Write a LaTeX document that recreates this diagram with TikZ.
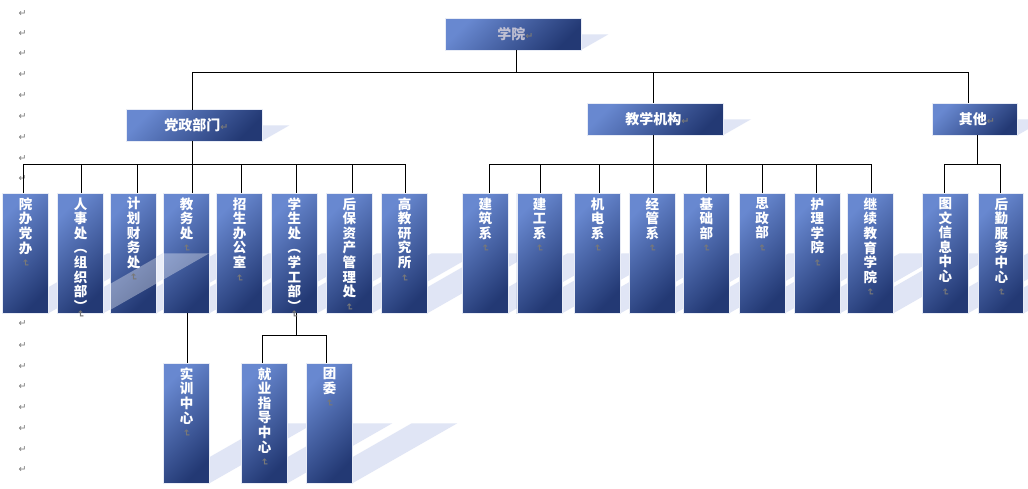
\documentclass[tikz,border=0pt]{standalone}
\usepackage{fontspec}
\usepackage{graphicx}
\newfontfamily\cjk{Noto Sans CJK SC}
\newfontfamily\symf{DejaVu Sans}
\definecolor{boxA}{RGB}{104,136,208}
\definecolor{boxB}{RGB}{35,57,116}
\definecolor{boxline}{RGB}{232,236,246}
\definecolor{shadowc}{RGB}{224,229,245}
\definecolor{mkgray}{RGB}{120,120,120}
\definecolor{roottext}{RGB}{192,192,210}
\newcommand\hmk{{\symf\fontsize{9.5}{9.5}\selectfont\color{mkgray}↵}}
\newcommand\vmk{\rotatebox{-90}{\symf\fontsize{9.5}{9.5}\selectfont\color{mkgray}↵}}
\newcommand\myshadow[4]{\fill[shadowc] (#1,#4) -- (#3,#4) -- ({#3+0.875*(#4-#2)},{(#2+#4)/2}) -- ({#1+0.875*(#4-#2)},{(#2+#4)/2}) -- cycle;}
\newcommand\mybox[5]{\node[boxst, anchor=north west, minimum width={(#4-#2)*1pt}, minimum height={(#5-#3)*1pt}] (#1) at (#2,#3) {};}
\tikzset{
  boxst/.style={draw=boxline, line width=0.8pt, inner sep=0pt, outer sep=0pt,
    top color=boxA, bottom color=boxB, shading angle=45},
  conn/.style={draw=black, line width=1pt},
  vtxt/.style={text=white, font=\cjk\bfseries\fontsize{13.5}{14.6}\selectfont, align=center, inner sep=0pt, anchor=north},
  htxt/.style={text=white, font=\cjk\bfseries\fontsize{14}{16}\selectfont, inner sep=0pt},
  lmk/.style={text=mkgray, font=\symf\fontsize{9.5}{9.5}\selectfont, inner sep=0pt}
}
\begin{document}
\begin{tikzpicture}[x=1pt,y=-1pt]
\useasboundingbox (0,0) rectangle (1028,488);
\fill[white] (0,0) rectangle (1028,488);
% paragraph marks at the left
\foreach \yy [count=\i] in {13.3,33.3,54,75,96,116.7,137.3,158.3,179,324,345.3,366.7,386.7,407.3,428.3,450,470}
  \node[lmk] (lm\i) at (22.5,\yy) {↵};
% shadows
\myshadow{445.7}{18.7}{581}{50}
\myshadow{126.7}{109.7}{262}{141}
\myshadow{587.7}{103.3}{723}{135.3}
\myshadow{932.5}{103.3}{1017.3}{135.3}
\foreach \xa/\xb in {2.7/48.3,57.7/103.3,110.7/156.3,163.7/209.3,216.7/262.3,271.7/317,326.7/372,381.7/427.3,
  462.5/508.2,516.9/562.2,574.6/620.4,629.7/675.1,683.7/729.1,739.2/785,794.7/840.1,847.6/893.3,922.7/968,978.7/1023.8}
  {\myshadow{\xa}{193.3}{\xb}{313.3}}
\foreach \xa/\xb in {163.7/209.3,241.7/287.3,306.7/352.3}
  {\myshadow{\xa}{363.3}{\xb}{483.3}}
% boxes
\mybox{root}{445.7}{18.7}{581}{50}
\mybox{dz}{126.7}{109.7}{262}{141}
\mybox{jx}{587.7}{103.3}{723}{135.3}
\mybox{qt}{932.5}{103.3}{1017.3}{135.3}
\mybox{a1}{2.7}{193.3}{48.3}{313.3}
\mybox{a2}{57.7}{193.3}{103.3}{313.3}
\mybox{a3}{110.7}{193.3}{156.3}{313.3}
\mybox{a4}{163.7}{193.3}{209.3}{313.3}
\mybox{a5}{216.7}{193.3}{262.3}{313.3}
\mybox{a6}{271.7}{193.3}{317}{313.3}
\mybox{a7}{326.7}{193.3}{372}{313.3}
\mybox{a8}{381.7}{193.3}{427.3}{313.3}
\mybox{b1}{462.5}{193.3}{508.2}{313.3}
\mybox{b2}{516.9}{193.3}{562.2}{313.3}
\mybox{b3}{574.6}{193.3}{620.4}{313.3}
\mybox{b4}{629.7}{193.3}{675.1}{313.3}
\mybox{b5}{683.7}{193.3}{729.1}{313.3}
\mybox{b6}{739.2}{193.3}{785}{313.3}
\mybox{b7}{794.7}{193.3}{840.1}{313.3}
\mybox{b8}{847.6}{193.3}{893.3}{313.3}
\mybox{c1}{922.7}{193.3}{968}{313.3}
\mybox{c2}{978.7}{193.3}{1023.8}{313.3}
\mybox{d1}{163.7}{363.3}{209.3}{483.3}
\mybox{d2}{241.7}{363.3}{287.3}{483.3}
\mybox{d3}{306.7}{363.3}{352.3}{483.3}
% connectors
\coordinate (busA) at (0,72.3);
\coordinate (busB) at (0,164.3);
\coordinate (busC) at (0,335);
\foreach \c/\s in {dz/-2, jx/-1.65, qt/-6.5}
  \draw[conn] ([xshift=3pt]root.south) -- ([xshift=3pt]root.south |- busA) -| ([xshift=\s pt]\c.north);
\foreach \c/\s in {a1/-2.2, a2/0.5, a3/3.8, a4/5.8, a5/1.8, a6/2, a7/3, a8/0.8}
  \draw[conn] ([xshift=-2pt]dz.south) -- ([xshift=-2pt]dz.south |- busB) -| ([xshift=\s pt]\c.north);
\foreach \c/\s in {b1/4.2, b2/1, b3/2, b4/1.3, b5/0, b6/0.3, b7/-1.2, b8/0.8}
  \draw[conn] ([xshift=-1.65pt]jx.south) -- ([xshift=-1.65pt]jx.south |- busB) -| ([xshift=\s pt]\c.north);
\foreach \c/\s in {c1/-1, c2/-1.2}
  \draw[conn] ([xshift=2.7pt]qt.south) -- ([xshift=2.7pt]qt.south |- busB) -| ([xshift=\s pt]\c.north);
\draw[conn] ([xshift=1.2pt]a4.south) -- ([xshift=1.2pt]d1.north);
\foreach \c/\s in {d2/-2.2, d3/-3.2}
  \draw[conn] ([xshift=2pt]a6.south) -- ([xshift=2pt]a6.south |- busC) -| ([xshift=\s pt]\c.north);
% light glare over two boxes
\begin{scope}
  \clip (110.7,253.3) rectangle (209.3,313.3);
  \fill[white, opacity=0.35] (163.7,253.3) -- (209.3,253.3) -- (104.3,313.3) -- (58.7,313.3) -- cycle;
\end{scope}
% horizontal labels
\node[htxt, text=roottext] (troot) at ([xshift=2pt]root.center) {学院\hmk};
\node[htxt] (tdz) at ([xshift=2pt]dz.center) {党政部门\hmk};
\node[htxt] (tjx) at ([xshift=2pt]jx.center) {教学机构\hmk};
\node[htxt] (tqt) at ([xshift=2pt]qt.center) {其他\hmk};
% vertical labels
\node[vtxt] (ta1) at ([yshift=-4pt]a1.north) {院\\办\\党\\办\\[-8pt]\vmk};
\node[vtxt] (ta2) at ([yshift=-4pt]a2.north) {人\\事\\处\\︵\\组\\织\\部\\︶\\[-15pt]\vmk};
\node[vtxt] (ta3) at ([yshift=-4pt]a3.north) {计\\划\\财\\务\\处\\[-8pt]\vmk};
\node[vtxt] (ta4) at ([yshift=-4pt]a4.north) {教\\务\\处\\[-8pt]\vmk};
\node[vtxt] (ta5) at ([yshift=-4pt]a5.north) {招\\生\\办\\公\\室\\[-8pt]\vmk};
\node[vtxt] (ta6) at ([yshift=-4pt]a6.north) {学\\生\\处\\︵\\学\\工\\部\\︶\\[-15pt]\vmk};
\node[vtxt] (ta7) at ([yshift=-4pt]a7.north) {后\\保\\资\\产\\管\\理\\处\\[-8pt]\vmk};
\node[vtxt] (ta8) at ([yshift=-4pt]a8.north) {高\\教\\研\\究\\所\\[-8pt]\vmk};
\node[vtxt] (tb1) at ([yshift=-4pt]b1.north) {建\\筑\\系\\[-8pt]\vmk};
\node[vtxt] (tb2) at ([yshift=-4pt]b2.north) {建\\工\\系\\[-8pt]\vmk};
\node[vtxt] (tb3) at ([yshift=-4pt]b3.north) {机\\电\\系\\[-8pt]\vmk};
\node[vtxt] (tb4) at ([yshift=-4pt]b4.north) {经\\管\\系\\[-8pt]\vmk};
\node[vtxt] (tb5) at ([yshift=-4pt]b5.north) {基\\础\\部\\[-8pt]\vmk};
\node[vtxt] (tb6) at ([yshift=-4pt]b6.north) {思\\政\\部\\[-8pt]\vmk};
\node[vtxt] (tb7) at ([yshift=-4pt]b7.north) {护\\理\\学\\院\\[-8pt]\vmk};
\node[vtxt] (tb8) at ([yshift=-4pt]b8.north) {继\\续\\教\\育\\学\\院\\[-8pt]\vmk};
\node[vtxt] (tc1) at ([yshift=-4pt]c1.north) {图\\文\\信\\息\\中\\心\\[-8pt]\vmk};
\node[vtxt] (tc2) at ([yshift=-4pt]c2.north) {后\\勤\\服\\务\\中\\心\\[-8pt]\vmk};
\node[vtxt] (td1) at ([yshift=-4pt]d1.north) {实\\训\\中\\心\\[-8pt]\vmk};
\node[vtxt] (td2) at ([yshift=-4pt]d2.north) {就\\业\\指\\导\\中\\心\\[-8pt]\vmk};
\node[vtxt] (td3) at ([yshift=-4pt]d3.north) {团\\委\\[-8pt]\vmk};
\end{tikzpicture}
\end{document}
